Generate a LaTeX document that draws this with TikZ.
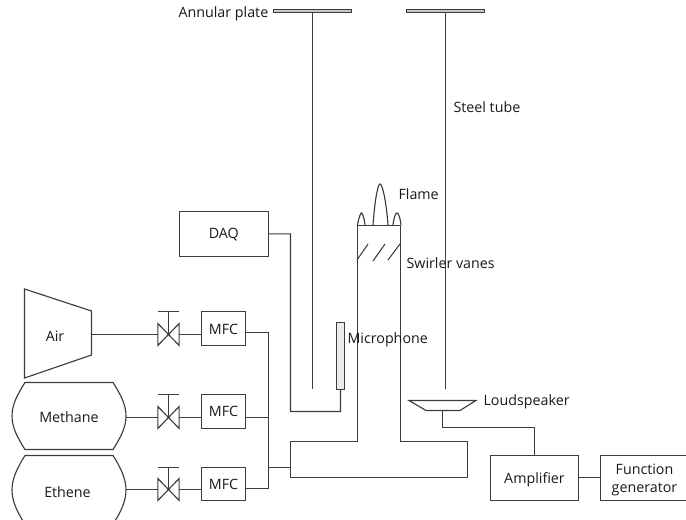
\documentclass[tikz,border=0pt]{standalone}
\usepackage{fontspec}
\setmainfont{Open Sans}
\definecolor{ln}{HTML}{3C3C3C}
\definecolor{tube}{HTML}{4A3A36}
\newcommand{\lowertext}[2]{\raisebox{-#1}[\height][\depth]{#2}}
\tikzset{
  x=0.75pt,y=-0.75pt,
  lbl/.style={inner sep=0pt,font=\fontsize{10.7}{13}\selectfont,text=black!90,align=center},
  box/.style={draw=ln,inner sep=0pt,outer sep=0pt,anchor=north west,font=\fontsize{10.7}{13}\selectfont,text=black!90,align=center},
  valve/.style={inner sep=0pt,outer sep=0pt,minimum width=16.0pt,minimum height=16.5pt},
  plate/.style={draw=ln,fill=black!22,inner sep=0pt,minimum width=59pt,minimum height=2.2pt},
  tubeline/.style={draw=tube,line width=0.8pt},
}
\begin{document}
\begin{tikzpicture}[draw=ln,line width=0.85pt]
\path[use as bounding box] (0,0) rectangle (686,520);
\clip (0,0) rectangle (686,520);
% sources
\draw (24.5,289) -- (91.5,311) -- (91.5,355) -- (24.5,378) -- cycle;
\node[lbl] (airtext) at (55,336) {Air};
\coordinate (air) at (91.5,334.5);
\draw (25,382.5) -- (113,382.5) .. controls (121,395) and (126,405) .. (126,416) .. controls (126,427) and (121,437) .. (113,449.5) -- (25,449.5) .. controls (17,437) and (12,427) .. (12,416) .. controls (12,405) and (17,395) .. (25,382.5) -- cycle;
\node[lbl] (methanetext) at (69,417) {Methane};
\coordinate (methane) at (126,417.5);
\draw (25,455.5) -- (113,455.5) .. controls (121,468) and (126,479) .. (126,490) .. controls (126,501) and (121,512) .. (113,524) -- (25,524) .. controls (17,512) and (12,501) .. (12,490) .. controls (12,479) and (17,468) .. (25,455.5) -- cycle;
\node[lbl] (ethenetext) at (67.5,492) {Ethene};
\coordinate (ethene) at (126,489.5);
% valves
\node[valve] (v1) at (168.5,334.5) {};
\node[valve] (v2) at (168.5,417.5) {};
\node[valve] (v3) at (168.5,489.5) {};
\foreach \v/\t in {v1/311.5,v2/394.5,v3/467.5}{
  \draw (\v.north west) -- (\v.south east) -- (\v.north east) -- (\v.south west) -- cycle;
  \draw (\v.center) -- (168.5,\t);
  \draw (158,\t) -- (179,\t);
}
% MFC
\node[box,minimum width=33pt,minimum height=25.5pt] (m1) at (201.5,311.5) {\lowertext{1pt}{MFC}};
\node[box,minimum width=33pt,minimum height=25.5pt] (m2) at (201.5,394.5) {MFC};
\node[box,minimum width=33pt,minimum height=25pt] (m3) at (201.5,467.5) {MFC};
\draw (air) -- (air-|v1.west);
\draw (v1.east) -- (v1.east-|m1.west);
\draw (methane) -- (methane-|v2.west);
\draw (v2.east) -- (v2.east-|m2.west);
\draw (ethene) -- (ethene-|v3.west);
\draw (v3.east) -- (v3.east-|m3.west);
\coordinate (bus) at (268.5,467.5);
\draw (m1.east|-0,332.5) -- (268.5,332.5) -- (bus) -- (268.5,488.5) -- (m3.east|-0,488.5);
\draw (m2.east|-0,417.5) -- (bus|-0,417.5);
% burner
\draw (290.5,441.5) -- (357.5,441.5) -- (357.5,225.5) -- (400.5,225.5) -- (400.5,441.5) -- (467.5,441.5) -- (467.5,477.5) -- (290.5,477.5) -- cycle;
\coordinate (plenum) at (290.5,467.5);
\draw (bus) -- (plenum);
\draw[tubeline] (357,260) -- (368,244);
\draw[tubeline] (373,261) -- (385,244);
\draw[tubeline] (388,260) -- (400,244);
\draw (357.5,225) .. controls (359,216) and (361,213) .. (361.5,213) .. controls (362,213) and (364,216) .. (365,225);
\draw (373,225) .. controls (375,198) and (378,184) .. (380,184) .. controls (382,184) and (386,198) .. (388,225);
\draw (393,225) .. controls (394,216) and (396,213) .. (397,213) .. controls (398,213) and (400,216) .. (401,225);
% tubes
\node[plate] (p1) at (312.5,11) {};
\node[plate] (p2) at (445.5,11) {};
\coordinate (t1) at (312.5,389);
\coordinate (t2) at (445.5,389);
\draw[tubeline] (p1.south) -- (t1);
\draw[tubeline] (p2.south) -- (t2);
% DAQ & microphone
\node[box,minimum width=66.5pt,minimum height=33.5pt] (daq) at (179.5,211.5) {\lowertext{0.8pt}{DAQ}};
\node[draw=ln,fill=black!8,inner sep=0pt,outer sep=0pt,anchor=north west,minimum width=6pt,minimum height=50pt] (mic) at (336.5,322.5) {};
\draw (daq.east) -- (290.5,233.9) -- (290.5,411.5) -- (mic.south|-0,411.5) -- (mic.south);
% loudspeaker
\draw (409,400.5) -- (476,400.5) -- (460,410.5) -- (426,410.5) -- cycle;
\coordinate (spk) at (442.5,410.5);
\node[box,minimum width=66pt,minimum height=33.5pt] (amp) at (490.5,455.5) {\lowertext{1.5pt}{Amplifier}};
\node[box,minimum width=66pt,minimum height=33.5pt] (fg) at (600.5,455.5) {\lowertext{1.5pt}{Function}\\[0.5pt]\lowertext{1.5pt}{generator}};
\draw (spk) -- (442.5,427.5) -- (534.5,427.5) -- (amp.north);
\draw (amp.east) -- (fg.west);
% labels
\node[lbl,anchor=west] (l1) at (178,14) {Annular plate};
\node[lbl,anchor=west] (l2) at (453,107) {Steel tube};
\node[lbl,anchor=west] (l3) at (398,194.5) {Flame};
\node[lbl,anchor=west] (l4) at (406,263) {Swirler vanes};
\node[lbl,anchor=west] (l5) at (347,340) {Microphone};
\node[lbl,anchor=west] (l6) at (483,402) {Loudspeaker};
\end{tikzpicture}
\end{document}
